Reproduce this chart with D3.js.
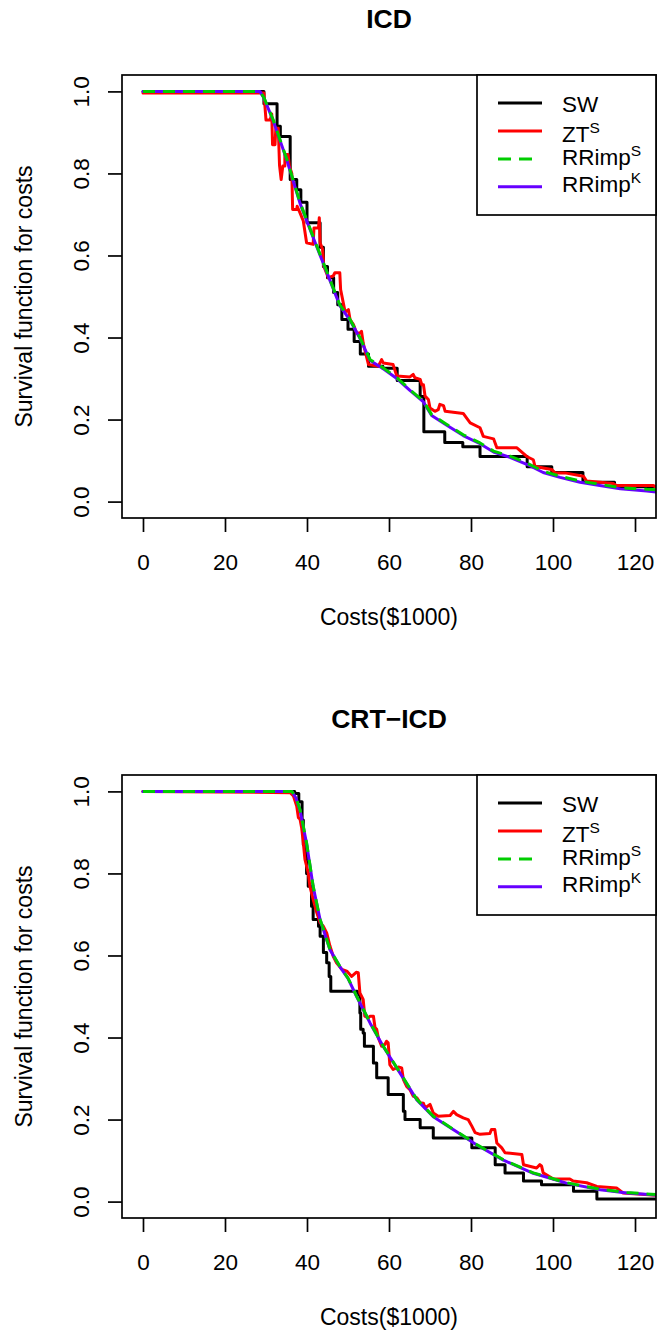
<!DOCTYPE html>
<html>
<head>
<meta charset="utf-8">
<script src="https://cdn.jsdelivr.net/npm/d3@7"></script>
<style>
  body { margin: 0; background: #fff; }
</style>
</head>
<body>
<div id="chart"></div>
<script>
(function () {
    'use strict';

    // ---- data: [cost ($1000), survival] ----
    const panelTitles = ['ICD', 'CRT\u2212ICD'];
    const xTicks = [0, 20, 40, 60, 80, 100, 120];
    const yTicks = [0, 0.2, 0.4, 0.6, 0.8, 1.0];

    const legendNames = ['SW', 'ZT', 'RRimp', 'RRimp'];
    const legendSups = ['', 'S', 'S', 'K'];
    const seriesColors = ['#000000', '#ff0000', '#00cd00', '#6600ff'];

    // ICD
    const icdSW = [[0, 1], [29.5, 0.97], [32.7, 0.915], [33.5, 0.89], [35.9, 0.785], [37.5, 0.76], [38.5, 0.73],
        [40, 0.68], [43.2, 0.62], [44, 0.573], [45, 0.546], [46.5, 0.51], [47.5, 0.48], [48.5, 0.444], [50, 0.42],
        [51.5, 0.39], [53, 0.36], [55, 0.33], [58.5, 0.325], [62, 0.295], [67.6, 0.256], [68.5, 0.17], [73.6, 0.144],
        [78, 0.134], [82.2, 0.11], [93.7, 0.085], [99.7, 0.071], [107.3, 0.047], [115, 0.036], [125.5, 0.036]];
    const icdZT = [[0, 0.996], [29.5, 0.996], [30, 0.93], [31, 0.93], [31.4, 0.945], [31.6, 0.87], [32.2, 0.87],
        [32.4, 0.91], [33, 0.91], [33.3, 0.82], [33.7, 0.785], [34.1, 0.818], [34.6, 0.818], [34.6, 0.846],
        [35.4, 0.846], [35.7, 0.818], [36.3, 0.8], [36.5, 0.712], [37.5, 0.712], [37.6, 0.72], [38.3, 0.704],
        [39.1, 0.684], [39.9, 0.631], [41.5, 0.627], [41.7, 0.667], [42.8, 0.667], [43, 0.692], [43.2, 0.631],
        [43.8, 0.615], [44.1, 0.574], [45.2, 0.546], [46.4, 0.55], [46.8, 0.558], [48, 0.558], [48.2, 0.517],
        [49.3, 0.462], [50.1, 0.468], [50.5, 0.444], [51.3, 0.432], [52.1, 0.411], [52.9, 0.411], [53.3, 0.415],
        [53.7, 0.387], [54.6, 0.35], [55, 0.334], [57.4, 0.33], [58.2, 0.346], [58.6, 0.338], [61, 0.334],
        [61.9, 0.306], [65.1, 0.304], [65.9, 0.31], [66.3, 0.302], [67.6, 0.298], [68, 0.285], [68.4, 0.285],
        [68.8, 0.257], [69.6, 0.249], [70, 0.228], [71.2, 0.22], [72, 0.224], [72.4, 0.237], [73.3, 0.234],
        [73.7, 0.22], [78.1, 0.215], [78.9, 0.204], [79.8, 0.192], [82.2, 0.18], [83, 0.159], [85.5, 0.153],
        [86.3, 0.131], [91.2, 0.131], [93.6, 0.11], [95.2, 0.102], [95.6, 0.086], [97.6, 0.082], [99.7, 0.078],
        [100.5, 0.07], [102.9, 0.07], [107.4, 0.062], [108.2, 0.05], [114.7, 0.044], [115.5, 0.039],
        [124.5, 0.039], [125.5, 0.033]];
    const icdRRimpS = [[0, 1], [28.5, 1], [29.5, 0.985], [31.7, 0.932], [35.1, 0.834], [38.3, 0.729], [41.5, 0.646],
        [44.9, 0.559], [48, 0.48], [50.5, 0.444], [52.9, 0.4], [55.4, 0.346], [58.6, 0.326], [61.9, 0.302],
        [65.1, 0.273], [68.4, 0.245], [70.4, 0.212], [74.1, 0.188], [78.1, 0.163], [82.2, 0.143], [85.5, 0.123],
        [89.5, 0.111], [93.6, 0.094], [97.6, 0.074], [101.7, 0.062], [106.6, 0.05], [111.4, 0.042],
        [116.4, 0.034], [122.9, 0.03], [125.5, 0.029]];
    const icdRRimpK = [[0, 1], [28.5, 1], [29.5, 0.984], [31.7, 0.93], [35.1, 0.832], [38.3, 0.727], [41.5, 0.644],
        [44.9, 0.557], [48, 0.478], [50.5, 0.442], [52.9, 0.398], [55.4, 0.344], [58.6, 0.324], [61.9, 0.3],
        [65.1, 0.271], [68.4, 0.243], [70.4, 0.21], [74.1, 0.186], [78.1, 0.161], [82.2, 0.141], [85.5, 0.121],
        [89.5, 0.108], [93.6, 0.091], [97.6, 0.071], [101.7, 0.059], [106.6, 0.047], [111.4, 0.039],
        [116.4, 0.031], [122.9, 0.026], [125.5, 0.023]];

    // CRT-ICD
    const crtSW = [[0, 1], [37, 0.995], [38, 0.975], [38.8, 0.93], [39.1, 0.87], [39.9, 0.8], [40.3, 0.769],
        [41.1, 0.72], [41.5, 0.688], [42.8, 0.671], [43.2, 0.647], [44, 0.607], [44.8, 0.582], [45.4, 0.549],
        [45.8, 0.513], [52.3, 0.505], [52.9, 0.46], [53.1, 0.42], [53.7, 0.411], [54, 0.379], [56.2, 0.338],
        [57, 0.302], [59.8, 0.261], [63.5, 0.22], [63.9, 0.2], [67.6, 0.18], [70.8, 0.155], [80.2, 0.131],
        [85.9, 0.09], [88.3, 0.07], [92.8, 0.05], [97.2, 0.041], [105, 0.025], [110.7, 0.0065], [125.5, 0.0065]];
    const crtZT = [[0, 1], [35.9, 0.997], [36.7, 0.989], [37.5, 0.964], [37.9, 0.936], [38.3, 0.932], [38.7, 0.911],
        [39.1, 0.875], [39.5, 0.834], [40.3, 0.802], [40.7, 0.769], [41.5, 0.737], [42.4, 0.704], [43.2, 0.68],
        [44, 0.671], [44.8, 0.655], [45.6, 0.623], [46.4, 0.598], [47.2, 0.582], [48.5, 0.566], [49.7, 0.562],
        [50.9, 0.549], [52, 0.559], [52.5, 0.558], [52.9, 0.509], [53.7, 0.493], [54.1, 0.452], [54.9, 0.448],
        [55.4, 0.452], [56.2, 0.452], [56.6, 0.424], [57, 0.42], [57.4, 0.399], [58.2, 0.379], [59, 0.383],
        [59.4, 0.391], [59.8, 0.387], [60.2, 0.334], [61, 0.322], [62.3, 0.328], [63.1, 0.326], [63.5, 0.298],
        [64.3, 0.281], [65.1, 0.273], [65.9, 0.257], [66.8, 0.253], [67.6, 0.241], [68.4, 0.24], [68.8, 0.228],
        [70, 0.237], [70.8, 0.216], [72, 0.208], [74.9, 0.21], [75.7, 0.22], [76.5, 0.212], [78.1, 0.204],
        [79.3, 0.2], [80.2, 0.184], [81, 0.168], [82.2, 0.164], [84.6, 0.166], [85, 0.176], [85.8, 0.176],
        [86.3, 0.143], [87.5, 0.131], [88.3, 0.119], [92.4, 0.115], [92.8, 0.09], [96, 0.082], [96.8, 0.09],
        [97.2, 0.087], [97.6, 0.07], [100.1, 0.055], [104.1, 0.055], [104.9, 0.05], [108.2, 0.046],
        [110.7, 0.037], [115.5, 0.033], [117.1, 0.021], [125.5, 0.015]];
    const crtRRimpS = [[0, 1], [36.3, 1], [37.3, 0.985], [38.3, 0.956], [39.9, 0.875], [41.5, 0.769], [43.2, 0.688],
        [45.6, 0.615], [48, 0.574], [50, 0.545], [52.1, 0.501], [55.4, 0.436], [58.6, 0.379], [62.7, 0.314],
        [66.8, 0.249], [70.8, 0.208], [76.5, 0.171], [81.4, 0.139], [87.9, 0.102], [95.2, 0.07], [103.3, 0.046],
        [111.5, 0.03], [118, 0.022], [125.5, 0.017]];
    const crtRRimpK = [[0, 1], [36.3, 1], [37.3, 0.984], [38.3, 0.954], [39.9, 0.873], [41.5, 0.768], [43.2, 0.687],
        [45.6, 0.614], [48, 0.573], [50, 0.544], [52.1, 0.5], [55.4, 0.435], [58.6, 0.378], [62.7, 0.313],
        [66.8, 0.248], [70.8, 0.207], [76.5, 0.17], [81.4, 0.138], [87.9, 0.101], [95.2, 0.069], [103.3, 0.045],
        [111.5, 0.029], [118, 0.021], [125.5, 0.016]];

    const panels = [
        { title: panelTitles[0], sw: icdSW, zt: icdZT, rs: icdRRimpS, rk: icdRRimpK },
        { title: panelTitles[1], sw: crtSW, zt: crtZT, rs: crtRRimpS, rk: crtRRimpK }
    ];

    const FONT = '"Liberation Sans", Arial, Helvetica, sans-serif';
    const W = 658, H = 1334;
    const left = 122, right = 656, top = 75, bottom = 518;
    const panelStep = 700;

    const svg = d3.select('#chart').append('svg')
        .attr('width', W).attr('height', H)
        .attr('font-family', FONT);
    svg.append('rect').attr('width', W).attr('height', H).attr('fill', '#fff');

    function drawPanel(p, i) {
        const off = i * panelStep;
        const x = d3.scaleLinear().domain([-5.12, 125.12]).range([left, right]);
        const y = d3.scaleLinear().domain([-0.04, 1.04]).range([bottom + off, top + off]);

        const clipId = 'clip' + i;
        svg.append('clipPath').attr('id', clipId)
            .append('rect')
            .attr('x', left).attr('y', top + off)
            .attr('width', right - left).attr('height', bottom - top);

        // axes
        const xAxis = svg.append('g')
            .attr('transform', `translate(0,${bottom + off})`)
            .call(d3.axisBottom(x).tickValues(xTicks).tickSize(14).tickFormat(d3.format('d')))
            .attr('font-family', FONT).attr('font-size', 22.5);
        xAxis.select('.domain').remove();
        xAxis.selectAll('line').attr('stroke', '#000').attr('stroke-width', 1.7);
        xAxis.selectAll('text').attr('y', 52).attr('dy', 0).attr('fill', '#000');

        const yAxis = svg.append('g')
            .attr('transform', `translate(${left},0)`)
            .call(d3.axisLeft(y).tickValues(yTicks).tickSize(14).tickFormat(d3.format('.1f')))
            .attr('font-family', FONT).attr('font-size', 22.5);
        yAxis.select('.domain').remove();
        yAxis.selectAll('line').attr('stroke', '#000').attr('stroke-width', 1.7);
        yAxis.selectAll('text')
            .attr('x', 0).attr('dy', 0)
            .attr('text-anchor', 'middle')
            .attr('transform', 'translate(-33,0) rotate(-90)')
            .attr('fill', '#000');

        // curves
        const stepLine = d3.line().x(d => x(d[0])).y(d => y(d[1])).curve(d3.curveStepAfter);
        const line = d3.line().x(d => x(d[0])).y(d => y(d[1]));
        const g = svg.append('g').attr('clip-path', `url(#${clipId})`)
            .attr('fill', 'none').attr('stroke-width', 3)
            .attr('stroke-linejoin', 'round').attr('stroke-linecap', 'round');

        g.append('path').attr('d', stepLine(p.sw)).attr('stroke', seriesColors[0]);
        g.append('path').attr('d', line(p.zt)).attr('stroke', seriesColors[1]);
        g.append('path').attr('d', line(p.rk)).attr('stroke', seriesColors[3]);
        g.append('path').attr('d', line(p.rs)).attr('stroke', seriesColors[2])
            .attr('stroke-dasharray', '12 8').attr('stroke-linecap', 'butt');

        // box
        svg.append('rect')
            .attr('x', left).attr('y', top + off)
            .attr('width', right - left).attr('height', bottom - top)
            .attr('fill', 'none').attr('stroke', '#000').attr('stroke-width', 1.7);

        // titles
        svg.append('text')
            .attr('x', (left + right) / 2).attr('y', 28 + off)
            .attr('text-anchor', 'middle')
            .attr('font-weight', 'bold').attr('font-size', 26.5)
            .text(p.title);
        svg.append('text')
            .attr('x', (left + right) / 2).attr('y', 625 + off)
            .attr('text-anchor', 'middle').attr('font-size', 23)
            .text('Costs($1000)');
        svg.append('text')
            .attr('transform', `translate(32,${(top + bottom) / 2 + off}) rotate(-90)`)
            .attr('text-anchor', 'middle').attr('font-size', 23)
            .text('Survival function for costs');

        // legend
        const lg = svg.append('g').attr('transform', `translate(0,${top + off})`);
        lg.append('rect')
            .attr('x', 477).attr('y', 0).attr('width', right - 477).attr('height', 140)
            .attr('fill', '#fff').attr('stroke', '#000').attr('stroke-width', 1.7);
        const rowY = [28, 56, 84, 111.7];
        const baseShift = [8.5, 10.5, 6, 5];
        legendNames.forEach((name, k) => {
            lg.append('line')
                .attr('x1', 498).attr('x2', 542)
                .attr('y1', rowY[k]).attr('y2', rowY[k])
                .attr('stroke', seriesColors[k]).attr('stroke-width', 3)
                .attr('stroke-dasharray', k === 2 ? '13 8 13 100' : null);
            const t = lg.append('text')
                .attr('x', 562).attr('y', rowY[k] + baseShift[k])
                .attr('font-size', 22.5);
            t.append('tspan').text(name);
            if (legendSups[k]) {
                t.append('tspan').attr('dy', -9).attr('font-size', 15.5).text(legendSups[k]);
            }
        });
    }

    panels.forEach(drawPanel);
})();
</script>
</body>
</html>
